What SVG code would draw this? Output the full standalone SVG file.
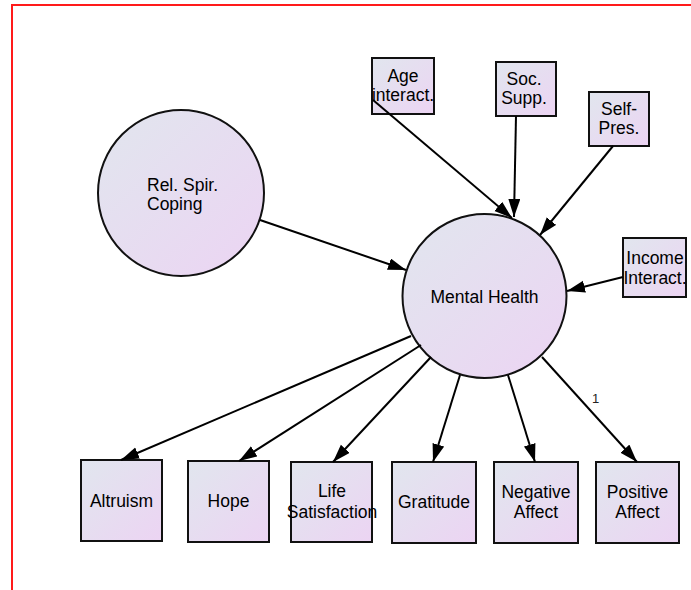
<svg xmlns="http://www.w3.org/2000/svg" width="691" height="590" viewBox="0 0 691 590">
  <defs>
    <linearGradient id="fillGrad" x1="0" y1="0" x2="1" y2="1">
      <stop offset="0" stop-color="#e1e6ee"/>
      <stop offset="1" stop-color="#ecd4f3"/>
    </linearGradient>
    <marker id="arrow" markerUnits="userSpaceOnUse" markerWidth="20" markerHeight="14" refX="18" refY="6" orient="auto">
      <path d="M0,0 L18,6 L0,12 Z" fill="#000"/>
    </marker>
  </defs>
  <style>
    .node { fill: url(#fillGrad); stroke: #111; stroke-width: 2; }
    .edge { stroke: #000; stroke-width: 2; fill: none; marker-end: url(#arrow); }
    text { font-family: "Liberation Sans", Arial, sans-serif; font-size: 17.5px; fill: #000; }
    .c { text-anchor: middle; }
    .lbl { font-size: 13px; fill: #222; }
  </style>
  <rect width="691" height="590" fill="#fff"/>
  <!-- frame -->
  <path d="M12,590 V5 H691" fill="none" stroke="#ff1a1a" stroke-width="2"/>

  <g id="rel-spir-coping">
    <circle class="node" cx="181" cy="193" r="83"/>
    <text x="147" y="190.5">Rel. Spir.</text>
    <text x="147" y="210">Coping</text>
  </g>
  <g id="mental-health">
    <circle class="node" cx="484.5" cy="296" r="82"/>
    <text class="c" x="484.5" y="302.5">Mental Health</text>
  </g>
  <g id="age-interact">
    <rect class="node" x="372" y="58" width="62" height="56"/>
    <text class="c" x="403" y="82">Age</text>
    <text class="c" x="403" y="101">interact.</text>
  </g>
  <g id="soc-supp">
    <rect class="node" x="496" y="62" width="60" height="54"/>
    <text class="c" x="524" y="85">Soc.</text>
    <text class="c" x="524" y="104">Supp.</text>
  </g>
  <g id="self-pres">
    <rect class="node" x="589" y="92" width="60" height="54"/>
    <text class="c" x="619" y="115">Self-</text>
    <text class="c" x="619" y="134">Pres.</text>
  </g>
  <g id="income-interact">
    <rect class="node" x="623" y="238" width="63" height="59"/>
    <text class="c" x="655" y="264">Income</text>
    <text class="c" x="655" y="284">Interact.</text>
  </g>
  <g id="altruism">
    <rect class="node" x="81" y="460" width="81" height="81"/>
    <text class="c" x="121.5" y="507">Altruism</text>
  </g>
  <g id="hope">
    <rect class="node" x="188" y="461" width="81" height="81"/>
    <text class="c" x="228.5" y="507">Hope</text>
  </g>
  <g id="life-satisfaction">
    <rect class="node" x="291" y="462" width="81" height="80"/>
    <text class="c" x="332" y="497">Life</text>
    <text class="c" x="332" y="518">Satisfaction</text>
  </g>
  <g id="gratitude">
    <rect class="node" x="392" y="462" width="84" height="81"/>
    <text class="c" x="434" y="508">Gratitude</text>
  </g>
  <g id="negative-affect">
    <rect class="node" x="494" y="462" width="84" height="81"/>
    <text class="c" x="536" y="498">Negative</text>
    <text class="c" x="536" y="518">Affect</text>
  </g>
  <g id="positive-affect">
    <rect class="node" x="596" y="462" width="83" height="81"/>
    <text class="c" x="637.5" y="498">Positive</text>
    <text class="c" x="637.5" y="518">Affect</text>
  </g>

  <!-- connectors drawn over the nodes -->
  <g id="connectors">
    <path class="edge" d="M260,220 L406,270"/>
    <path class="edge" d="M373,100 L512,218"/>
    <path class="edge" d="M516,116 L514,217"/>
    <path class="edge" d="M613,146 L540,235"/>
    <path class="edge" d="M623,277 L567,291"/>
    <path class="edge" d="M411,336 L121,460"/>
    <path class="edge" d="M421,345 L239,461"/>
    <path class="edge" d="M431,357 L333,462"/>
    <path class="edge" d="M460,375 L433,462"/>
    <path class="edge" d="M508,375 L535,462"/>
    <path class="edge" d="M542,357 L637,462"/>
    <text class="lbl" x="592" y="403">1</text>
  </g>
</svg>
